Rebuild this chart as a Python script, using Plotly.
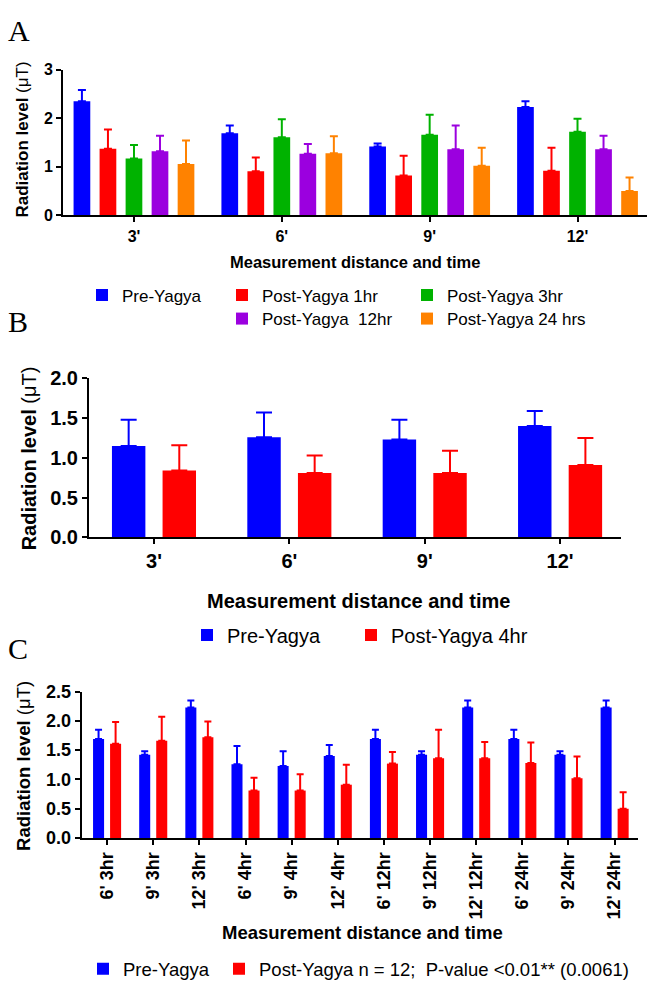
import plotly.graph_objects as go

W, H = 647, 994

# ---------------- data ----------------
# Panel A
a_categories = ["3'", "6'", "9'", "12'"]
a_names = ["Pre-Yagya", "Post-Yagya 1hr", "Post-Yagya 3hr", "Post-Yagya  12hr", "Post-Yagya 24 hrs"]
a_pre = [2.35, 1.69, 1.42, 2.23]
a_pre_err = [0.23, 0.16, 0.06, 0.12]
a_post1 = [1.37, 0.91, 0.82, 0.92]
a_post1_err = [0.40, 0.28, 0.41, 0.47]
a_post3 = [1.17, 1.61, 1.66, 1.72]
a_post3_err = [0.28, 0.37, 0.41, 0.27]
a_post12 = [1.32, 1.27, 1.36, 1.36]
a_post12_err = [0.32, 0.20, 0.49, 0.28]
a_post24 = [1.06, 1.28, 1.02, 0.50]
a_post24_err = [0.48, 0.35, 0.37, 0.28]
a_yticks = [0, 1, 2, 3]

# Panel B
b_categories = ["3'", "6'", "9'", "12'"]
b_names = ["Pre-Yagya", "Post-Yagya 4hr"]
b_pre = [1.15, 1.26, 1.23, 1.40]
b_pre_err = [0.33, 0.31, 0.25, 0.19]
b_post4 = [0.84, 0.81, 0.81, 0.91]
b_post4_err = [0.32, 0.22, 0.28, 0.34]
b_yticks = [0.0, 0.5, 1.0, 1.5, 2.0]

# Panel C
c_categories = ["6' 3hr", "9' 3hr", "12' 3hr", "6' 4hr", "9' 4hr", "12' 4hr",
                "6' 12hr", "9' 12hr", "12' 12hr", "6' 24hr", "9' 24hr", "12' 24hr"]
c_names = ["Pre-Yagya", "Post-Yagya n = 12;  P-value <0.01** (0.0061)"]
c_pre = [1.69, 1.42, 2.23, 1.26, 1.23, 1.40, 1.69, 1.42, 2.23, 1.69, 1.42, 2.23]
c_pre_err = [0.16, 0.06, 0.12, 0.31, 0.25, 0.19, 0.16, 0.06, 0.12, 0.16, 0.06, 0.12]
c_post = [1.61, 1.66, 1.72, 0.81, 0.81, 0.91, 1.27, 1.36, 1.36, 1.28, 1.02, 0.50]
c_post_err = [0.37, 0.41, 0.27, 0.22, 0.28, 0.34, 0.20, 0.49, 0.28, 0.35, 0.37, 0.28]
c_yticks = [0.0, 0.5, 1.0, 1.5, 2.0, 2.5]

x_title = "Measurement distance and time"

# ---------------- style ----------------
BLUE, RED, GREEN, PURPLE, ORANGE = "#0000FF", "#FF0000", "#00B200", "#9B00DF", "#FF8200"
SANS = "Arial, 'Liberation Sans', sans-serif"
SERIF = "'Liberation Serif', 'Times New Roman', serif"


def px(x):
    return x / W


def py(y):
    return 1 - y / H


fig = go.Figure()


def add_group(cats, vals_list, errs_list, names, colors, xa, ya, step, width, cap, legends, lwidths):
    n = len(vals_list)
    for i, (v, e, nm, col, lg, lw) in enumerate(zip(vals_list, errs_list, names, colors, legends, lwidths)):
        center = (i - (n - 1) / 2) * step
        tr = dict(
            x=cats, y=v, name=nm, marker=dict(color=col, line=dict(width=0)),
            width=width, offset=center - width / 2,
            error_y=dict(type="data", array=e, arrayminus=[0] * len(e), symmetric=False,
                         color=col, thickness=2, width=cap),
            xaxis=xa, yaxis=ya, legend=lg,
        )
        if lw:
            tr["legendwidth"] = lw
        fig.add_trace(go.Bar(**tr))


add_group(a_categories, [a_pre, a_post1, a_post3, a_post12, a_post24],
          [a_pre_err, a_post1_err, a_post3_err, a_post12_err, a_post24_err],
          a_names, [BLUE, RED, GREEN, PURPLE, ORANGE], "x", "y",
          step=0.176, width=0.113, cap=4,
          legends=["legend", "legend", "legend", "legend2", "legend2"],
          lwidths=[95, 140, None, 140, None])

add_group(b_categories, [b_pre, b_post4], [b_pre_err, b_post4_err], b_names, [BLUE, RED],
          "x2", "y2", step=0.374, width=0.247, cap=8,
          legends=["legend3", "legend3"], lwidths=[119, None])

add_group(c_categories, [c_pre, c_post], [c_pre_err, c_post_err], c_names, [BLUE, RED],
          "x3", "y3", step=0.369, width=0.239, cap=3.5,
          legends=["legend4", "legend4"], lwidths=[91, None])


def axis_common(size):
    return dict(showline=True, linewidth=2, linecolor="black", ticks="outside", ticklen=5,
                tickwidth=2, tickcolor="black", showgrid=False, zeroline=False,
                tickfont=dict(family=SANS, size=size, color="black", weight="bold"))


layout = dict(
    width=W, height=H, margin=dict(l=0, r=0, t=0, b=0),
    paper_bgcolor="white", plot_bgcolor="white", barmode="overlay",
    font=dict(family=SANS, color="black"),
    xaxis=dict(domain=[px(63), px(647)], anchor="y", type="category",
               range=[-0.48, 3.47], **axis_common(16)),
    yaxis=dict(domain=[py(209), py(60)], anchor="x", range=[0, 3],
               tickvals=a_yticks, **axis_common(16)),
    xaxis2=dict(domain=[px(89), px(621)], anchor="y2", type="category",
                range=[-0.48, 3.45], **axis_common(20)),
    yaxis2=dict(domain=[py(538.3), py(375.7)], anchor="x2", range=[0, 2],
                tickvals=b_yticks, tickformat=".1f", **axis_common(20)),
    xaxis3=dict(domain=[px(81.7), px(637.7)], anchor="y3", type="category",
                range=[-0.55, 11.5], tickangle=-90, **axis_common(18)),
    yaxis3=dict(domain=[py(845.7), py(696)], anchor="x3", range=[0, 2.5],
                tickvals=c_yticks, tickformat=".1f", **axis_common(18)),
)

leg_common = dict(orientation="h", xanchor="left", yanchor="middle", bgcolor="rgba(0,0,0,0)",
                  borderwidth=0, traceorder="normal")
layout["legend"] = dict(x=px(82), y=py(291), font=dict(family=SANS, size=17), **leg_common)
layout["legend2"] = dict(x=px(222), y=py(315), font=dict(family=SANS, size=17), **leg_common)
layout["legend3"] = dict(x=px(187), y=py(638), font=dict(family=SANS, size=20), **leg_common)
layout["legend4"] = dict(x=px(83), y=py(980), font=dict(family=SANS, size=18.5), **leg_common)

fig.update_layout(**layout)


def ytitle(x, y, size):
    fig.add_annotation(
        text=f"<b>Radiation level </b><span style='font-family:{SERIF}'>(\u03bcT)</span>",
        x=px(x), y=py(y), xref="paper", yref="paper", textangle=-90, showarrow=False,
        xanchor="center", yanchor="middle", font=dict(family=SANS, size=size, color="black"))


def xtitle(x, y, size):
    fig.add_annotation(text=f"<b>{x_title}</b>", x=px(x), y=py(y), xref="paper", yref="paper",
                       showarrow=False, xanchor="center", yanchor="middle",
                       font=dict(family=SANS, size=size, color="black"))


def letter(t, x, y):
    fig.add_annotation(text=t, x=px(x), y=py(y), xref="paper", yref="paper", showarrow=False,
                       xanchor="left", yanchor="middle",
                       font=dict(family=SERIF, size=30, color="black"))


ytitle(23, 131.5, 17)
ytitle(29, 457.5, 20)
ytitle(24, 772, 18.5)
xtitle(355, 257, 16.5)
xtitle(358, 603, 20)
xtitle(362, 942, 18.5)
letter("A", 6, 20)
letter("B", 6, 318)
letter("C", 6, 652)

# remove the browser's default page margin so the figure sits at the window origin
fig.write_html("out.html", config={"displayModeBar": False},
               post_script="document.body.style.margin='0';")
